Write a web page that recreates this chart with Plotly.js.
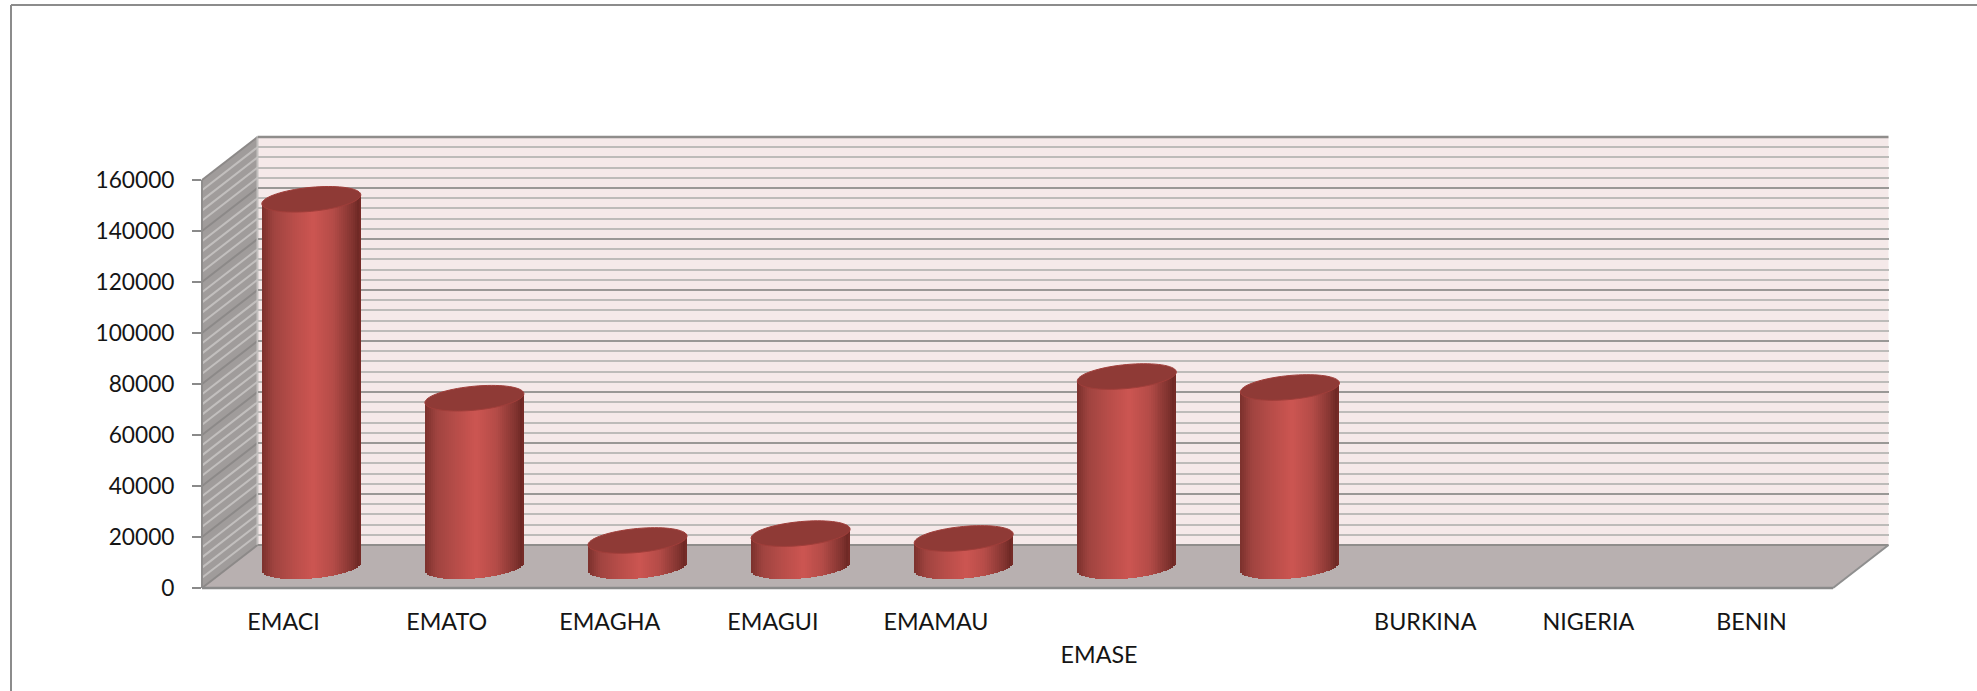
<!DOCTYPE html>
<html>
<head>
<meta charset="utf-8">
<script src="https://cdn.plot.ly/plotly-3.0.1.min.js"></script>
<style>html,body{margin:0;padding:0;background:#fff;overflow:hidden}#chart{width:1977px;height:691px}</style>
</head>
<body>
<div id="chart"></div>
<script>
// ---- data ----
const categories = ['EMACI','EMATO','EMAGHA','EMAGUI','EMAMAU','EMASE','','BURKINA','NIGERIA','BENIN'];
const tickLabels = ['EMACI','EMATO','EMAGHA','EMAGUI','EMAMAU','','','BURKINA','NIGERIA','BENIN'];
const staggeredLabels = ['EMASE'];
const staggeredSlots = [5];
const values = [144000, 66000, 10200, 12900, 11000, 74500, 70200, null, null, null];
const yTicks = [0,20000,40000,60000,80000,100000,120000,140000,160000];

// ---- look and geometry ----
const W = 1977, H = 691;
const YMAX = 160000, MINOR = 4000, MAJOR = 20000;
const front = {l:202, r:1833, t:180, b:588};
const depth = {x:55.5, y:43};
const planeAt = f => ({l:front.l+depth.x*f, r:front.r+depth.x*f, t:front.t-depth.y*f, b:front.b-depth.y*f});
const mid = planeAt(0.5), back = planeAt(1);
const px = x => x/W, py = y => 1-y/H;
const dom = p => ({x:[px(p.l),px(p.r)], y:[py(p.b),py(p.t)]});
const FONT_Y = {family:'Lato, "Open Sans", sans-serif', size:22.7, color:'#151515'};
const FONT_X = {family:'Lato, "Open Sans", sans-serif', size:23.3, color:'#151515'};
const N = categories.length;

const barWidth = 0.607, slices = 50;
const pxPerCat = (front.r-front.l)/N, valPerPx = YMAX/(front.b-front.t);
const a = barWidth/2, tilt = 0.09, rimPx = 12;
const BELOW = 12000;
const stops = [[0,[123,48,44]],[0.12,[160,68,64]],[0.32,[184,77,73]],[0.52,[204,85,81]],[0.72,[181,76,72]],[0.92,[128,51,47]],[0.985,[106,38,34]],[1,[138,52,48]]];
function shade(t){
  for(let i=1;i<stops.length;i++){
    if(t<=stops[i][0]){
      const s=stops[i-1],e=stops[i],k=(t-s[0])/(e[0]-s[0]);
      return 'rgb('+s[1].map((c,j)=>Math.round(c+(e[1][j]-c)*k)).join(',')+')';
    }
  }
  return 'rgb(138,52,48)';
}
const tiltVal = dx => tilt*dx*pxPerCat*valPerPx;
const rimVal = dx => rimPx*valPerPx*Math.sqrt(Math.max(0,1-(dx/a)*(dx/a)));

const bx=[],by=[],bbase=[],bw=[],boff=[],bc=[];
const sw = barWidth/slices;
values.forEach((v,i)=>{
  if(v===null) return;
  for(let j=0;j<slices;j++){
    const lo=-a+j*sw, c=lo+sw/2;
    const base=tiltVal(c)-rimVal(c);
    bx.push(i); bbase.push(base); by.push(v+tiltVal(c)-base);
    bw.push(j===slices-1?sw:sw*1.4); boff.push(lo); bc.push(shade((j+0.5)/slices));
  }
});

const shapes=[];
const poly=(pts,fill)=>shapes.push({type:'path',xref:'paper',yref:'paper',layer:'below',fillcolor:fill,line:{width:0},
  path:'M'+pts.map(p=>px(p[0])+','+py(p[1])).join('L')+'Z'});
const seg=(x0,y0,x1,y1,color,width)=>shapes.push({type:'line',xref:'paper',yref:'paper',layer:'below',
  x0:px(x0),y0:py(y0),x1:px(x1),y1:py(y1),line:{color:color,width:width}});

poly([[back.l,back.t],[back.r,back.t],[back.r,back.b],[back.l,back.b]],'#f5e9e9');
poly([[front.l,front.t],[back.l,back.t],[back.l,back.b],[front.l,front.b]],'#a09c9b');
poly([[front.l,front.b],[front.r,front.b],[back.r,back.b],[back.l,back.b]],'#b8b0b0');
for(let v=0;v<=YMAX;v+=MINOR){
  const dy=v/valPerPx, major=v%MAJOR===0;
  seg(front.l,front.b-dy,back.l,back.b-dy,major?'#8c8988':'#c2bfbe',2);
}
seg(back.l,back.t,back.l,back.b,'#c4c1c0',2);
seg(back.l,back.t,back.r,back.t,'#8f8d8b',2.5);
seg(back.l,back.b,back.r,back.b,'#8f8d8b',2);
seg(front.l,front.t,front.l,front.b,'#8e8c8b',2);
seg(front.l,front.b,front.r,front.b,'#8a8a8a',2.5);
seg(front.r,front.b,back.r,back.b,'#8f8f8f',2);
seg(11,5,W,5,'#8c8c8c',2);
seg(11,5,11,H,'#8c8c8c',2);

values.forEach((v,i)=>{
  if(v===null) return;
  const pts=[];
  for(let k=0;k<72;k++){
    const th=k/72*2*Math.PI, dx=a*Math.cos(th);
    const yy=v+tiltVal(dx)+rimPx*valPerPx*Math.sin(th);
    pts.push((i+dx).toFixed(4)+','+yy.toFixed(1));
  }
  shapes.push({type:'path',xref:'x3',yref:'y3',layer:'above',fillcolor:'#8f3a36',line:{color:'#a03e3a',width:1},
    path:'M'+pts.join('L')+'Z'});
});

const idx = categories.map((c,i)=>i);
const holder=(x,y)=>({type:'scatter',mode:'none',x:[0],y:[0],xaxis:x,yaxis:y,hoverinfo:'skip',showlegend:false});
const traces=[
  holder('x','y'),
  holder('x2','y2'),
  {type:'bar',x:bx,y:by,base:bbase,width:bw,offset:boff,xaxis:'x3',yaxis:'y3',cliponaxis:false,
   marker:{color:bc,line:{width:0}},hoverinfo:'skip',showlegend:false},
  holder('x4','y2')
];
const xr=[-0.5,N-0.5], yr=[0,YMAX];
const hiddenX={range:xr,fixedrange:true,showgrid:false,zeroline:false,showticklabels:false,ticks:'',showline:false};
const hiddenY={range:yr,fixedrange:true,showgrid:false,zeroline:false,showticklabels:false,ticks:'',showline:false};
const layout={
  width:W,height:H,margin:{l:0,r:0,t:0,b:0,pad:0},autosize:false,
  paper_bgcolor:'#ffffff',plot_bgcolor:'rgba(0,0,0,0)',showlegend:false,bargap:0,barmode:'overlay',
  font:FONT_X,
  xaxis:Object.assign({},hiddenX,{domain:dom(back).x,anchor:'y'}),
  yaxis:Object.assign({},hiddenY,{domain:dom(back).y,anchor:'x',
    showgrid:true,gridcolor:'#9a9896',gridwidth:2,tick0:0,dtick:MAJOR,
    minor:{showgrid:true,gridcolor:'#bdbbb9',gridwidth:2,dtick:MINOR,tick0:0}}),
  xaxis2:Object.assign({},hiddenX,{domain:dom(front).x,anchor:'y2',showticklabels:true,tickmode:'array',
    tickvals:idx,ticktext:tickLabels,tickangle:0,tickfont:FONT_X,ticklabelstandoff:18}),
  xaxis4:Object.assign({},hiddenX,{domain:dom(front).x,anchor:'y2',showticklabels:true,tickmode:'array',
    tickvals:staggeredSlots,ticktext:staggeredLabels,tickangle:0,tickfont:FONT_X,ticklabelstandoff:51}),
  yaxis2:Object.assign({},hiddenY,{domain:dom(front).y,anchor:'x2',showticklabels:true,tickmode:'array',
    tickvals:yTicks,ticktext:yTicks.map(String),ticks:'outside',ticklen:9,tickwidth:2,tickcolor:'#8a8a8a',
    tickfont:FONT_Y,ticklabelstandoff:13}),
  xaxis3:Object.assign({},hiddenX,{domain:dom(mid).x,anchor:'y3'}),
  yaxis3:Object.assign({},hiddenY,{range:[-BELOW,YMAX],anchor:'x3',
    domain:[py(mid.b+BELOW/valPerPx),py(mid.t)]}),
  shapes:shapes
};
Plotly.newPlot('chart',traces,layout,{displayModeBar:false,staticPlot:true});
</script>
</body>
</html>
